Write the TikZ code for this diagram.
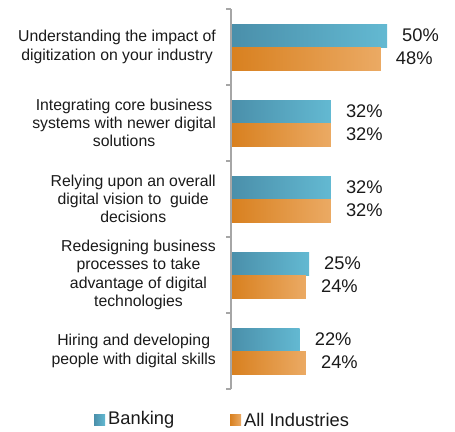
\documentclass[tikz,border=0pt]{standalone}
\usepackage{fontspec}
\setmainfont{Liberation Sans}
\usetikzlibrary{positioning}
\definecolor{bankL}{HTML}{4A8FAA}
\definecolor{bankR}{HTML}{63B9D2}
\definecolor{indL}{HTML}{D8801F}
\definecolor{indR}{HTML}{EBAA64}
\definecolor{axisgray}{HTML}{A6A6A6}
\definecolor{txt}{HTML}{1A1A1A}

\begin{document}
\begin{tikzpicture}[x=1pt,y=-1pt,
  cat/.style={anchor=east,align=center,inner sep=0pt,text=txt,font=\fontsize{15.8}{18.2}\selectfont},
  val/.style={anchor=west,inner sep=0pt,text=txt,font=\fontsize{18.3}{20}\selectfont},
  bar/.style={draw=none,inner sep=0pt,outer sep=0pt,anchor=north west,minimum height=23pt},
  bank/.style={bar,left color=bankL,right color=bankR},
  ind/.style={bar,left color=indL,right color=indR},
  axis/.style={draw=axisgray,line width=1.5pt}]
  \useasboundingbox (0,0) rectangle (455,431);
  % bars and their values
  \foreach \i/\b/\a in {0/50/48,1/32/32,2/32/32,3/25/24,4/22/24}{
    \pgfmathsetmacro\t{9+76*\i}
    \node[bank,minimum width=3.12*\b pt] (b\i) at (231,\t+15) {};
    \node[ind,minimum width=3.12*\a pt]  (a\i) at (231,\t+38) {};
    \node[val,right=15pt of b\i] (vb\i) {\b\%};
    \node[val,right=15pt of a\i] (va\i) {\a\%};
  }
  % axis with ticks
  \foreach \i in {0,...,5}{
    \pgfmathsetmacro\t{9+76*\i}
    \coordinate (k\i) at (231,\t);
    \draw[axis] (k\i) -- ++(-5,0);
  }
  \draw[axis] (k0) -- (k5);
  % categories
  \node[cat] (c1) at (216,47)  {Understanding the impact of\\digitization on your industry};
  \node[cat] (c2) at (216,123) {Integrating core business\\systems with newer digital\\solutions};
  \node[cat] (c3) at (216,199) {Relying upon an overall\\digital vision to\ \ guide\\decisions};
  \node[cat] (c4) at (216,275) {Redesigning business\\processes to take\\advantage of digital\\technologies};
  \node[cat] (c5) at (216,351) {Hiring and developing\\people with digital skills};
  % legend
  \node[bank,anchor=center,minimum width=11pt,minimum height=11pt] (lb) at (99.5,419.5) {};
  \node[val,right=3pt of lb] (lbt) {Banking};
  \node[ind,anchor=center,minimum width=11pt,minimum height=11pt] (li) at (235.5,419.5) {};
  \node[val,right=3pt of li] (lit) {All Industries};
\end{tikzpicture}
\end{document}
